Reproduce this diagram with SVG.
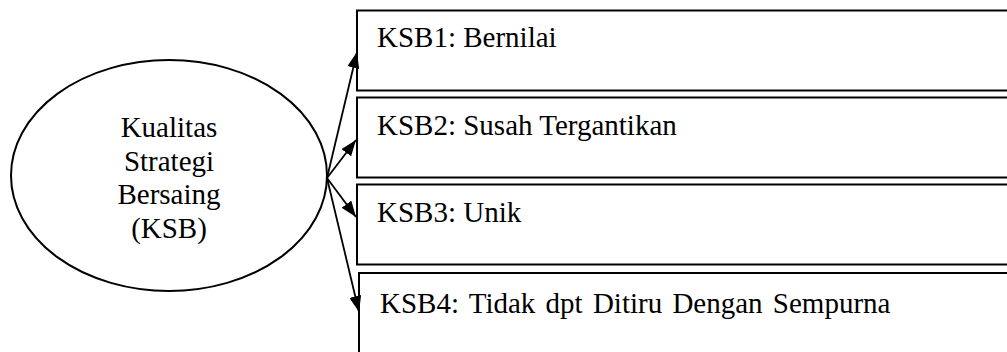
<svg xmlns="http://www.w3.org/2000/svg" width="1007" height="352" viewBox="0 0 1007 352">
  <style>
    .bg { fill: #ffffff; }
    .shape { fill: #ffffff; stroke: #000000; stroke-width: 2; }
    .edge { fill: none; stroke: #000000; stroke-width: 1.8; }
    .label { font-family: "Liberation Serif", "DejaVu Serif", serif; font-size: 29px; fill: #000000; }
    .center { text-anchor: middle; }
  </style>
  <defs>
    <marker id="arrowhead" viewBox="0 0 10 10" refX="10" refY="5" markerWidth="16" markerHeight="12" markerUnits="userSpaceOnUse" orient="auto" preserveAspectRatio="none">
      <path d="M0,0 L10,5 L0,10 Z" fill="#000000"/>
    </marker>
  </defs>

  <rect class="bg" x="0" y="0" width="1007" height="352"/>

  <!-- construct node -->
  <g id="node-ksb">
    <ellipse class="shape" cx="169" cy="175.5" rx="158" ry="115.5"/>
    <text class="label center" x="169" y="137">Kualitas</text>
    <text class="label center" x="169" y="170.5">Strategi</text>
    <text class="label center" x="169" y="204">Bersaing</text>
    <text class="label center" x="169" y="237.5">(KSB)</text>
  </g>

  <!-- indicator boxes (open past the right edge) -->
  <g id="node-ksb1">
    <rect class="shape" x="357" y="10.5" width="700" height="80"/>
    <text class="label" x="377" y="47">KSB1: Bernilai</text>
  </g>
  <g id="node-ksb2">
    <rect class="shape" x="357" y="97.5" width="700" height="80"/>
    <text class="label" x="377" y="135">KSB2: Susah Tergantikan</text>
  </g>
  <g id="node-ksb3">
    <rect class="shape" x="357" y="184.5" width="700" height="80"/>
    <text class="label" x="377" y="222">KSB3: Unik</text>
  </g>
  <g id="node-ksb4">
    <rect class="shape" x="359" y="273" width="700" height="120"/>
    <text class="label" x="380" y="312.5" word-spacing="3">KSB4: Tidak dpt Ditiru Dengan Sempurna</text>
  </g>

  <!-- connectors -->
  <g id="connectors">
    <line class="edge" x1="327" y1="178" x2="357" y2="52" marker-end="url(#arrowhead)"/>
    <line class="edge" x1="327" y1="178" x2="356" y2="140" marker-end="url(#arrowhead)"/>
    <line class="edge" x1="327" y1="178" x2="356" y2="217" marker-end="url(#arrowhead)"/>
    <line class="edge" x1="327" y1="178" x2="359" y2="312" marker-end="url(#arrowhead)"/>
  </g>
</svg>
